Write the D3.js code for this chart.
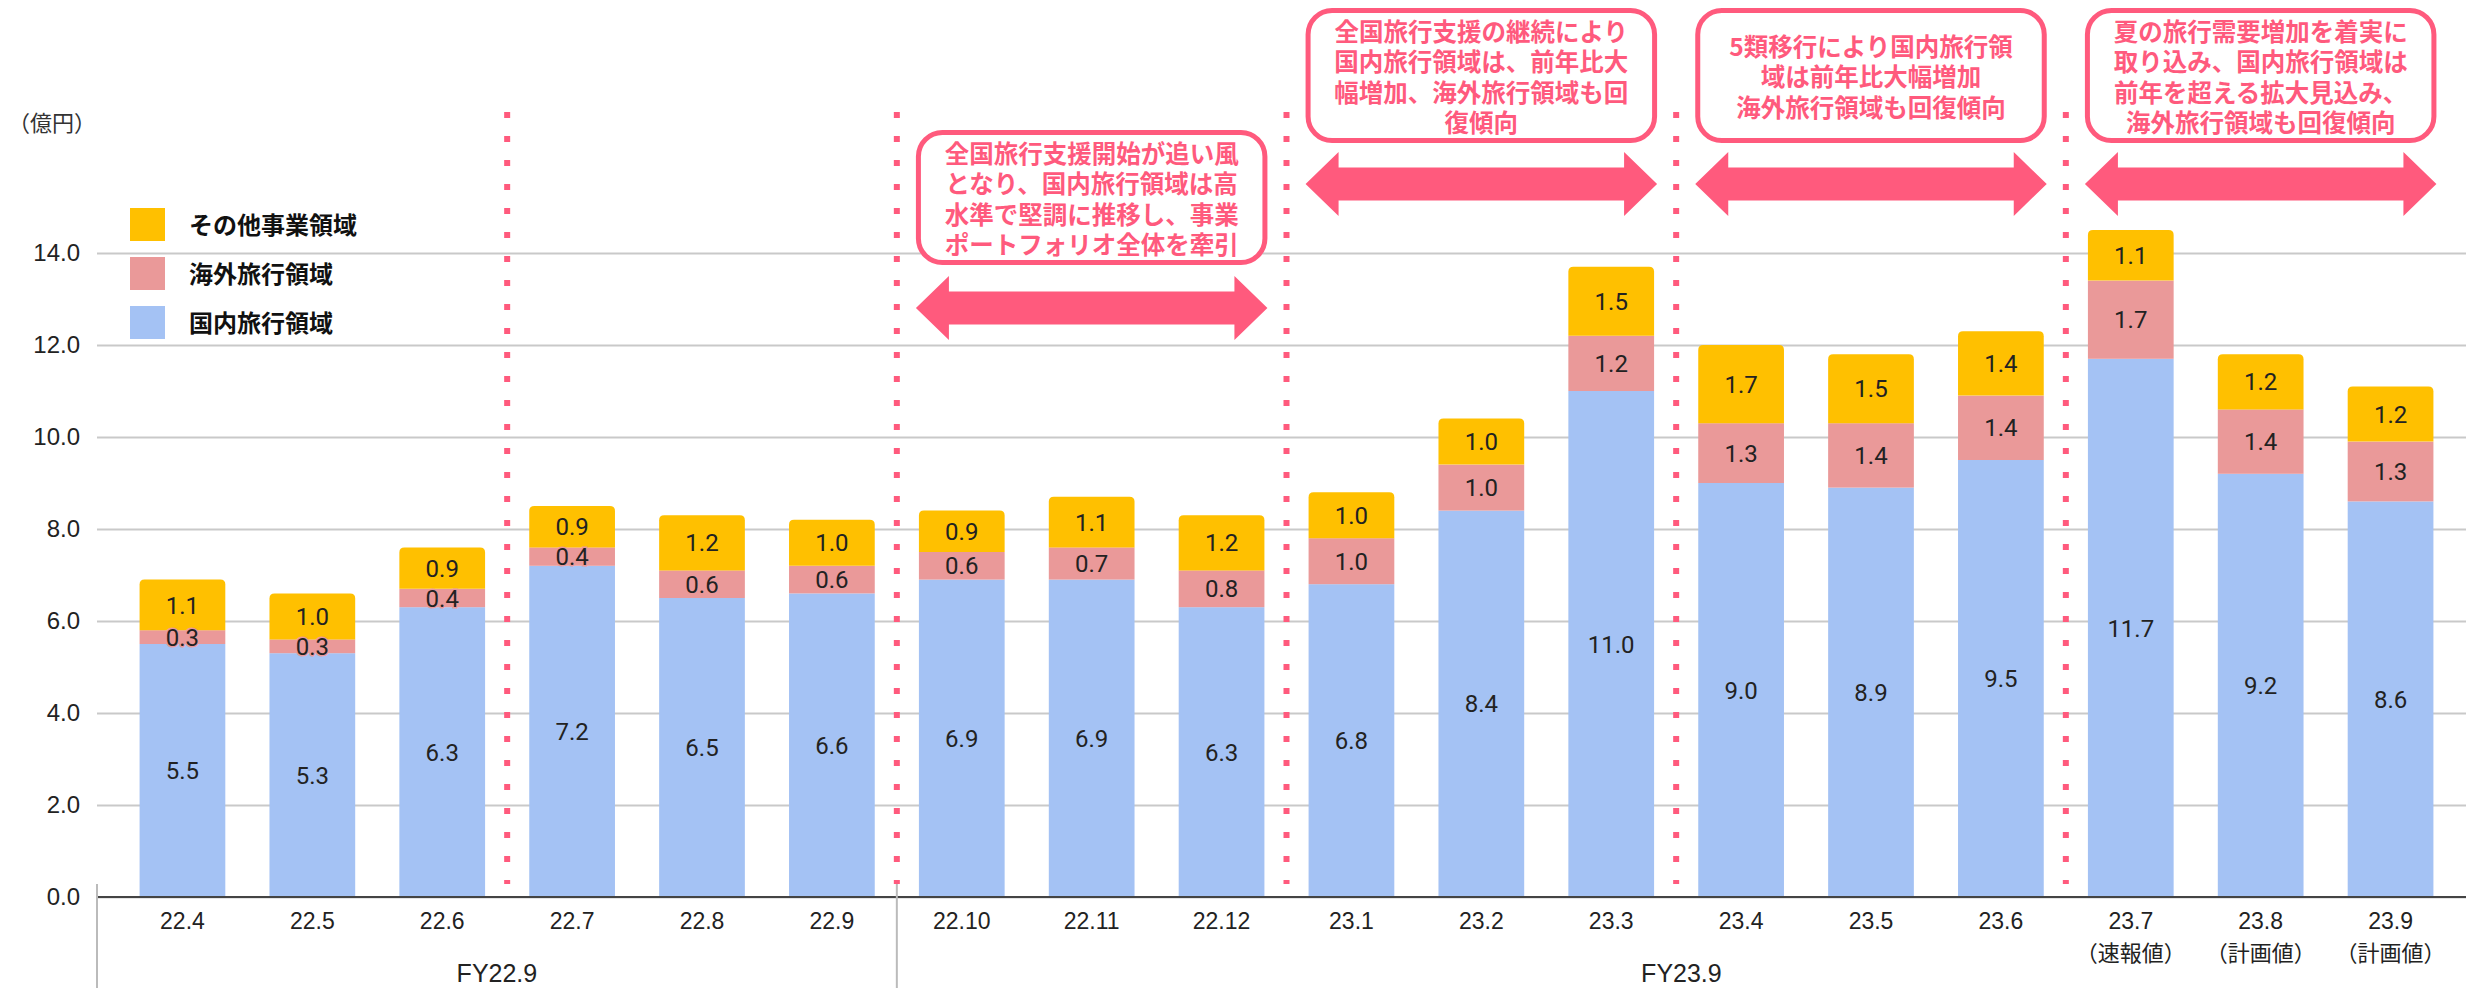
<!DOCTYPE html>
<html><head><meta charset="utf-8">
<script src="https://cdn.jsdelivr.net/npm/d3@7/dist/d3.min.js"></script>
<style>
html,body{margin:0;padding:0;background:#fff;}
svg{display:block;}
</style></head>
<body>
<svg id="c" width="2466" height="988"></svg>
<script>
const months = ["22.4","22.5","22.6","22.7","22.8","22.9","22.10","22.11","22.12","23.1","23.2","23.3","23.4","23.5","23.6","23.7","23.8","23.9"];
const subLabels = ["","","","","","","","","","","","","","","","（速報値）","（計画値）","（計画値）"];
const domestic = [5.5,5.3,6.3,7.2,6.5,6.6,6.9,6.9,6.3,6.8,8.4,11.0,9.0,8.9,9.5,11.7,9.2,8.6];
const overseas = [0.3,0.3,0.4,0.4,0.6,0.6,0.6,0.7,0.8,1.0,1.0,1.2,1.3,1.4,1.4,1.7,1.4,1.3];
const other    = [1.1,1.0,0.9,0.9,1.2,1.0,0.9,1.1,1.2,1.0,1.0,1.5,1.7,1.5,1.4,1.1,1.2,1.2];
const seriesNames = ["国内旅行領域","海外旅行領域","その他事業領域"];
const seriesColors = ["#a4c2f4","#ea9999","#ffc000"];
const yTicks = [0,2,4,6,8,10,12,14];
const groups = [{name:"FY22.9", from:"22.4", to:"22.9"},{name:"FY23.9", from:"22.10", to:"23.9"}];
const separatorsAfter = ["22.6","22.9","22.12","23.3","23.6"];
const notes = [
  {from:"22.10", to:"22.12", level:1, lines:["全国旅行支援開始が追い風","となり、国内旅行領域は高","水準で堅調に推移し、事業","ポートフォリオ全体を牽引"]},
  {from:"23.1", to:"23.3", level:0, lines:["全国旅行支援の継続により","国内旅行領域は、前年比大","幅増加、海外旅行領域も回","復傾向"]},
  {from:"23.4", to:"23.6", level:0, lines:["5類移行により国内旅行領","域は前年比大幅増加","海外旅行領域も回復傾向"]},
  {from:"23.7", to:"23.9", level:0, lines:["夏の旅行需要増加を着実に","取り込み、国内旅行領域は","前年を超える拡大見込み、","海外旅行領域も回復傾向"]}
];
const unitLabel = "（億円）";

const svg = d3.select("#c");
const W = 2466, H = 988;
const axisFont = "'Liberation Sans', Arial, 'Noto Sans CJK JP', sans-serif";
const cjkFont = "'Noto Sans CJK JP', sans-serif";
const pink = "#ff5a7d";

const x = d3.scaleBand().domain(months).range([117.5, 2455.5]).paddingInner(0.34).paddingOuter(0.17);
const y = d3.scaleLinear().domain([0,14]).range([897,253]);
const plotLeft = 97;

// gridlines + y labels
const yAxis = d3.axisLeft(y).tickValues(yTicks).tickSize(-(W-plotLeft)).tickFormat(d3.format(".1f")).tickPadding(17);
const gy = svg.append("g").attr("transform",`translate(${plotLeft},0)`).call(yAxis);
gy.select(".domain").remove();
gy.selectAll(".tick line").attr("stroke","#c9c9c9").attr("stroke-width",2);
gy.selectAll(".tick text").attr("font-family",axisFont).attr("font-size",24).attr("fill","#222");

// unit label
svg.append("text").attr("x",8).attr("y",123).attr("dy","0.35em").attr("font-family",cjkFont).attr("font-size",22).attr("fill","#333").text(unitLabel);

// stacked bars
const table = months.map((m,i)=>({m, d:domestic[i], o:overseas[i], t:other[i]}));
const stack = d3.stack().keys(["d","o","t"])(table);
const radius = 5;
stack.forEach((layer, li)=>{
  const g = svg.append("g");
  layer.forEach(seg=>{
    const x0 = x(seg.data.m), w = x.bandwidth();
    const yTop = y(seg[1]), yBot = y(seg[0]);
    if (li === 2) {
      const r = radius;
      g.append("path").attr("fill",seriesColors[li]).attr("d",
        `M${x0},${yBot} L${x0},${yTop+r} Q${x0},${yTop} ${x0+r},${yTop} L${x0+w-r},${yTop} Q${x0+w},${yTop} ${x0+w},${yTop+r} L${x0+w},${yBot} Z`);
    } else {
      g.append("rect").attr("x",x0).attr("y",yTop).attr("width",w).attr("height",yBot-yTop).attr("fill",seriesColors[li]);
    }
  });
});
// labels
stack.forEach((layer, li)=>{
  layer.forEach(seg=>{
    svg.append("text")
      .attr("x", x(seg.data.m)+x.bandwidth()/2)
      .attr("y", (y(seg[0])+y(seg[1]))/2)
      .attr("dy","0.36em").attr("text-anchor","middle")
      .attr("font-family","Roboto, sans-serif").attr("font-size",24).attr("fill","#222")
      .attr("stroke",seriesColors[li]).attr("stroke-width",3).attr("paint-order","stroke")
      .text(d3.format(".1f")(seg[1]-seg[0]));
  });
});

// baseline
svg.append("line").attr("x1",plotLeft).attr("x2",W).attr("y1",y(0)).attr("y2",y(0)).attr("stroke","#444").attr("stroke-width",2);

// x tick labels
const xAxis = d3.axisBottom(x).tickSize(0).tickPadding(16);
const gx = svg.append("g").attr("transform",`translate(0,${y(0)})`).call(xAxis);
gx.select(".domain").remove();
gx.selectAll(".tick text").attr("font-family",axisFont).attr("font-size",23).attr("fill","#222");
months.forEach((m,i)=>{
  if(subLabels[i]) svg.append("text").attr("x",x(m)+x.bandwidth()/2).attr("y",953).attr("dy","0.35em")
    .attr("text-anchor","middle").attr("font-family",cjkFont).attr("font-size",22).attr("fill","#222").text(subLabels[i]);
});

// group axis
const step = x.step();
const sepX = m => x(m) + x.bandwidth() + (step - x.bandwidth())/2;
svg.append("line").attr("x1",plotLeft).attr("x2",plotLeft).attr("y1",884).attr("y2",H).attr("stroke","#bbb").attr("stroke-width",2);
groups.forEach((g,gi)=>{
  const left = gi===0 ? plotLeft : sepX(groups[gi-1].to);
  const right = gi===groups.length-1 ? W : sepX(g.to);
  if (gi>0) svg.append("line").attr("x1",left).attr("x2",left).attr("y1",882).attr("y2",H).attr("stroke","#bbb").attr("stroke-width",2);
  svg.append("text").attr("x",(left+right)/2).attr("y",973).attr("dy","0.35em").attr("text-anchor","middle")
    .attr("font-family",axisFont).attr("font-size",25).attr("fill","#222").text(g.name);
});

// dotted separators
separatorsAfter.forEach(m=>{
  const sx = sepX(m);
  svg.append("line").attr("x1",sx).attr("x2",sx).attr("y1",112).attr("y2",884)
    .attr("stroke",pink).attr("stroke-width",6).attr("stroke-dasharray","6 18");
});

// legend
const legendOrder = [2,1,0];
legendOrder.forEach((si,k)=>{
  const cy = 225 + k*49;
  svg.append("rect").attr("x",130).attr("y",cy-17).attr("width",35).attr("height",33).attr("fill",seriesColors[si]);
  svg.append("text").attr("x",189).attr("y",cy).attr("dy","0.36em").attr("font-family",cjkFont).attr("font-weight",700)
    .attr("font-size",24).attr("fill","#111").text(seriesNames[si]);
});

// annotations
function arrow(x1,x2,cy){
  const sh = 16.5, hh = 32, hl = 33;
  return `M${x1},${cy} L${x1+hl},${cy-hh} L${x1+hl},${cy-sh} L${x2-hl},${cy-sh} L${x2-hl},${cy-hh} L${x2},${cy} L${x2-hl},${cy+hh} L${x2-hl},${cy+sh} L${x1+hl},${cy+sh} L${x1+hl},${cy+hh} Z`;
}
notes.forEach(n=>{
  const bx1 = x(n.from) - 3, bx2 = x(n.to) + x.bandwidth() + 3;
  const top = n.level===1 ? 130 : 8, bh = 135;
  const ay = n.level===1 ? 308 : 184;
  svg.append("rect").attr("x",bx1+2.5).attr("y",top+2.5).attr("width",bx2-bx1-5).attr("height",bh-5)
    .attr("rx",24).attr("fill","#fff").attr("stroke",pink).attr("stroke-width",5);
  const cx = (bx1+bx2)/2, lh = 30.5;
  const cy0 = top + bh/2 + 2 - (n.lines.length-1)*lh/2;
  n.lines.forEach((t,i)=>{
    svg.append("text").attr("x",cx).attr("y",cy0+i*lh).attr("dy","0.36em").attr("text-anchor","middle")
      .attr("font-family",cjkFont).attr("font-weight",700).attr("font-size",24.5).attr("fill",pink).text(t);
  });
  svg.append("path").attr("d",arrow(bx1,bx2,ay)).attr("fill",pink);
});
</script>
</body></html>
